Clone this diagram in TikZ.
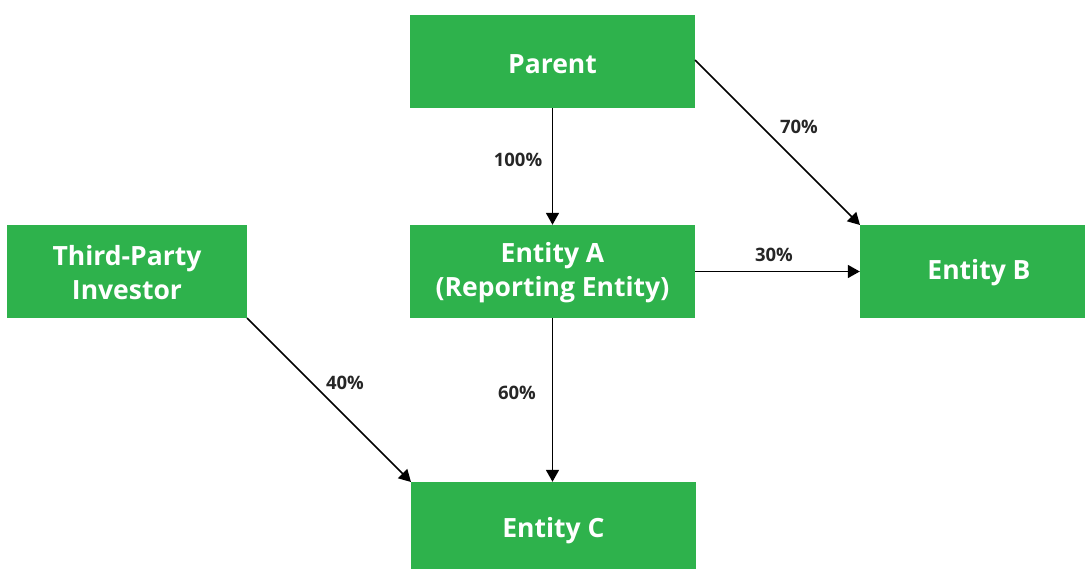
\documentclass[tikz,border=0pt]{standalone}
\usepackage{fontspec}
\setmainfont{Open Sans}
\usetikzlibrary{arrows.meta}
\definecolor{boxgreen}{RGB}{46,178,76}
\begin{document}
\begin{tikzpicture}[x=1pt,y=-1pt,
  entbox/.style={fill=boxgreen,draw=none,text=white,font=\bfseries\fontsize{26.5}{34}\selectfont,align=center,inner sep=0pt},
  link/.style={draw=black,line width=1.6pt,-{Triangle[length=12pt,width=13pt]}},
  pct/.style={font=\bfseries\fontsize{18.5}{20}\selectfont,text=black!85,inner sep=0pt}]
\useasboundingbox (0,0) rectangle (1085,569);
\begin{scope}
\clip (0,0) rectangle (1085,569);
\node[entbox,minimum width=285pt,minimum height=93pt] (parent) at (552.5,61.5) {};
\node[entbox,minimum width=285pt,minimum height=93pt] (a) at (552.5,271.5) {};
\node[entbox,minimum width=225pt,minimum height=93pt] (b) at (972.5,271.5) {};
\node[entbox,minimum width=240pt,minimum height=93pt] (tp) at (127,271.5) {};
\node[entbox,minimum width=285pt,minimum height=93pt] (c) at (553.5,528.5) {};
\end{scope}
\node[entbox] (tparent) at (552.5,64) {Parent};
\node[entbox] (ta) at (552.5,273) {Entity A\\(Reporting Entity)};
\node[entbox] (tb) at (979,273) {Entity B};
\node[entbox] (ttp) at (127,273) {Third-Party\\Investor};
\node[entbox] (tc) at (553.5,530.5) {Entity C};
\coordinate (pr) at (695,60);
\coordinate (bt) at (860,225);
\coordinate (tpr) at (247,318);
\coordinate (ctl) at (411,482);
\draw[link] (parent.south) -- (a.north);
\draw[link] (pr) -- (bt);
\draw[link] (a.east) -- (b.west);
\draw[link] (a.south) -- (c.north -| a.south);
\draw[link] (tpr) -- (ctl);
\node[pct] (l100) at (518,160) {100\%};
\node[pct] (l70) at (799,127) {70\%};
\node[pct] (l30) at (774,255) {30\%};
\node[pct] (l60) at (517,393) {60\%};
\node[pct] (l40) at (345,383) {40\%};
\end{tikzpicture}
\end{document}
